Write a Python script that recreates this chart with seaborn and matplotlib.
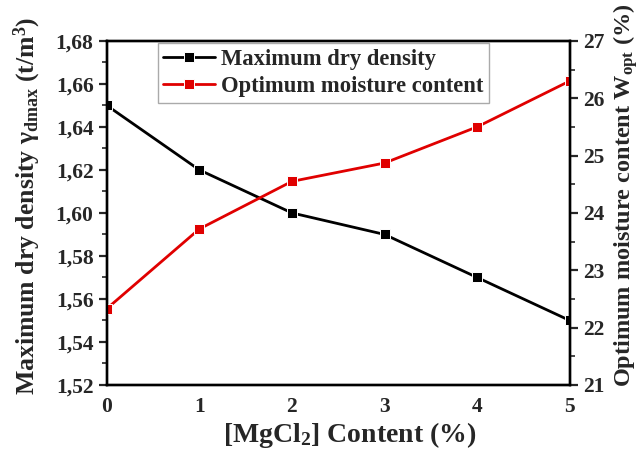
import matplotlib
matplotlib.use("Agg")
import matplotlib.pyplot as plt
from matplotlib.ticker import MultipleLocator, FuncFormatter
import seaborn as sns
import pandas as pd

# MgCl2 content (%) and measured compaction parameters
mgcl2_content = [0, 1, 2, 3, 4, 5]
max_dry_density = [1.65, 1.62, 1.60, 1.59, 1.57, 1.55]
optimum_moisture = [22.33, 23.72, 24.55, 24.87, 25.50, 26.30]

sns.set_style("white")
plt.rcParams["font.family"] = ["Liberation Serif", "DejaVu Serif"]
plt.rcParams["font.weight"] = "bold"
plt.rcParams["mathtext.fontset"] = "custom"
plt.rcParams["mathtext.rm"] = "Liberation Serif:bold"
plt.rcParams["mathtext.it"] = "Liberation Serif:bold"
plt.rcParams["mathtext.bf"] = "Liberation Serif:bold"

df = pd.DataFrame({
    "content": mgcl2_content,
    "density": max_dry_density,
    "moisture": optimum_moisture,
})

fig, ax = plt.subplots(figsize=(6.43, 4.54), dpi=100)
fig.subplots_adjust(left=0.166, right=0.886, top=0.910, bottom=0.152)
ax2 = ax.twinx()

line_kw = dict(marker="s", markersize=6.5, linewidth=2.0,
               markeredgecolor="white", markeredgewidth=0.7)
sns.lineplot(data=df, x="content", y="density", ax=ax, color="black",
             label="Maximum dry density", legend=False, **line_kw)
sns.lineplot(data=df, x="content", y="moisture", ax=ax2, color="#e00000",
             label="Optimum moisture content", legend=False, **line_kw)

ax.set_xlim(0, 5)
ax.set_ylim(1.52, 1.68)
ax2.set_ylim(21, 27)

ax.xaxis.set_major_locator(MultipleLocator(1))
ax.xaxis.set_minor_locator(MultipleLocator(0.5))
ax.yaxis.set_major_locator(MultipleLocator(0.02))
ax.yaxis.set_minor_locator(MultipleLocator(0.01))
ax.yaxis.set_major_formatter(FuncFormatter(lambda v, p: f"{v:.2f}".replace(".", ",")))
ax2.yaxis.set_major_locator(MultipleLocator(1))
ax2.yaxis.set_minor_locator(MultipleLocator(0.5))

for a in (ax, ax2):
    for s in a.spines.values():
        s.set_linewidth(1.7)
        s.set_color("black")
    a.tick_params(which="major", direction="out", length=6, width=1.6,
                  labelsize=15.5)
    a.tick_params(which="minor", direction="out", length=3.5, width=1.2)
ax.tick_params(axis="x", which="both", top=False, pad=3)
ax.tick_params(axis="y", which="both", left=True, right=False)
ax2.tick_params(axis="y", which="both", right=True, left=False)
for lbl in ax.get_xticklabels() + ax.get_yticklabels() + ax2.get_yticklabels():
    lbl.set_fontweight("bold")

ax.set_xlabel("[MgCl$_{2}$] Content (%)", fontsize=20, fontweight="bold")
ax.xaxis.set_label_coords(0.525, -0.103)
ax.set_ylabel("Maximum dry density γ$_{\\rm dmax}$ (t/m$^{3}$)", fontsize=18.5,
              fontweight="bold")
ax.yaxis.set_label_coords(-0.137, 0.52)
ax2.set_ylabel("Optimum moisture content W$_{\\rm opt}$ (%)", fontsize=17.5,
               fontweight="bold")
ax2.yaxis.set_label_coords(1.089, 0.552)

h1, l1 = ax.get_legend_handles_labels()
h2, l2 = ax2.get_legend_handles_labels()
leg = ax.legend(h1 + h2, l1 + l2, loc="upper left", bbox_to_anchor=(0.11, 0.993),
                borderaxespad=0, frameon=True, fancybox=False, framealpha=1,
                edgecolor="#aaaaaa", prop={"weight": "bold", "size": 16.3},
                handlelength=2.3, handletextpad=0.25, borderpad=0.25,
                labelspacing=0.28, numpoints=1)
leg.get_frame().set_linewidth(1.0)

fig.savefig("out.png", dpi=100)
